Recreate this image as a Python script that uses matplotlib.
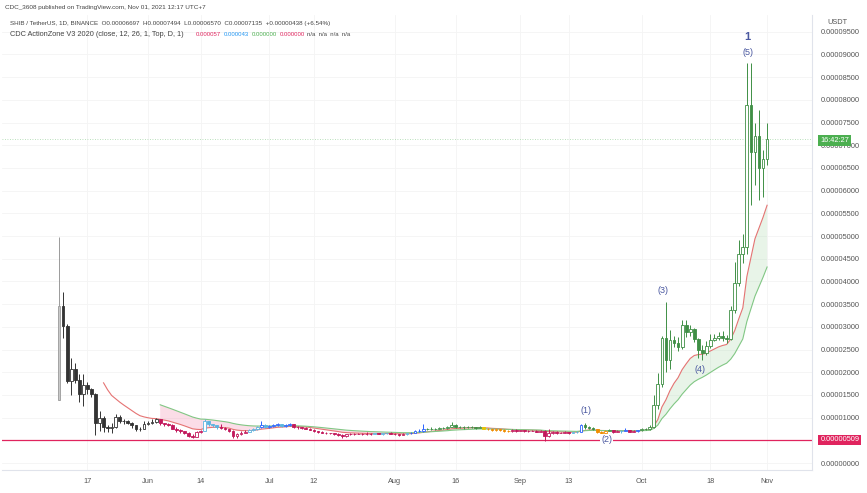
import matplotlib.pyplot as plt
import matplotlib.dates as mdates
import numpy as np
import pandas as pd

plt.rcParams['font.family'] = ['Liberation Sans', 'DejaVu Sans']

# SHIB / TetherUS daily candles, Binance, 10 May 2021 .. 1 Nov 2021
# values below are in units of 1e-6 USDT
start_date = "2021-05-10"
first_open_e6 = 13.9
close_e6 = [34.5, 30.1, 18.0, 20.6, 18.3, 15.2, 17.2, 16.2, 15.2, 8.8,
            9.9, 7.9, 7.7, 8.0, 10.2, 9.3, 9.2, 8.8, 8.3, 7.5,
            7.6, 8.7, 8.9, 9.0, 9.6, 8.8, 8.5, 8.3, 7.6, 7.3,
            7.0, 6.5, 6.0, 5.8, 6.8, 7.1, 9.2, 8.5, 8.3, 7.9,
            7.7, 7.5, 7.1, 5.9, 6.3, 6.7, 6.9, 7.2, 7.5, 7.9,
            8.3, 8.0, 8.2, 8.4, 8.5, 8.1, 8.3, 8.6, 8.0, 7.9,
            7.7, 7.6, 7.3, 7.0, 6.9, 6.7, 6.5, 6.5, 6.4, 6.2,
            5.9, 6.3, 6.3, 6.4, 6.4, 6.3, 6.4, 6.4, 6.5, 6.4,
            6.5, 6.6, 6.4, 6.3, 6.2, 6.4, 6.5, 6.7, 7.1, 7.0,
            7.4, 7.5, 7.6, 7.5, 7.7, 7.8, 8.0, 8.4, 8.0, 7.9,
            7.9, 8.0, 7.9, 7.8, 7.9, 7.6, 7.5, 7.2, 7.4, 7.3,
            7.1, 7.0, 7.2, 7.1, 7.2, 7.0, 7.1, 7.1, 6.9, 7.1,
            6.0, 6.5, 6.8, 6.6, 6.7, 6.8, 6.6, 6.8, 6.9, 8.3,
            7.9, 7.8, 7.5, 6.9, 6.7, 7.1, 7.2, 6.9, 7.0, 7.1,
            7.2, 6.9, 7.0, 7.2, 7.5, 7.4, 7.9, 12.8, 17.5, 27.5,
            22.7, 27.1, 26.4, 25.6, 30.3, 28.9, 29.5, 27.3, 25.0, 24.3,
            25.8, 27.2, 27.6, 28.0, 27.6, 27.3, 33.7, 39.6, 46.0, 47.5,
            78.9, 68.5, 72.0, 65.0, 66.97, 71.35]
high_e6 = [49.8, 37.7, 30.6, 23.1, 22.0, 19.6, 19.6, 17.9, 16.6, 15.5,
           11.5, 10.3, 8.4, 8.8, 10.9, 10.6, 9.8, 9.4, 9.0, 8.4,
           8.0, 9.2, 9.3, 9.6, 10.0, 9.7, 8.9, 8.8, 8.5, 7.9,
           7.6, 7.1, 6.8, 6.3, 7.0, 7.3, 9.7, 9.2, 8.7, 8.4,
           8.7, 7.9, 7.6, 7.3, 6.6, 7.0, 7.2, 7.6, 7.8, 8.2,
           9.3, 8.6, 8.4, 8.6, 8.8, 8.6, 8.5, 8.9, 8.7, 8.2,
           8.0, 7.9, 7.7, 7.4, 7.1, 7.0, 6.8, 6.7, 6.6, 6.5,
           6.3, 6.4, 6.5, 6.5, 6.6, 6.5, 6.9, 6.5, 6.6, 6.6,
           6.6, 6.7, 6.8, 6.5, 6.4, 6.5, 6.6, 6.8, 7.2, 7.5,
           8.7, 7.8, 7.9, 7.8, 7.9, 8.0, 8.2, 9.1, 8.7, 8.2,
           8.1, 8.2, 8.1, 8.0, 8.1, 8.0, 7.7, 7.6, 7.5, 7.5,
           7.4, 7.2, 7.6, 7.4, 7.3, 7.3, 7.2, 7.3, 7.2, 7.3,
           7.2, 7.6, 7.1, 7.0, 6.9, 7.0, 6.9, 6.9, 7.1, 8.5,
           8.8, 8.2, 7.9, 7.6, 7.1, 7.3, 7.4, 7.3, 7.2, 7.2,
           7.8, 7.3, 7.2, 7.3, 7.7, 7.7, 8.3, 15.0, 19.8, 28.0,
           35.4, 29.3, 27.9, 27.8, 31.5, 31.5, 30.3, 29.8, 27.5, 26.0,
           26.8, 28.4, 28.5, 28.8, 29.0, 28.3, 34.5, 44.3, 49.1, 50.5,
           88.1, 88.1, 75.0, 77.8, 69.0, 74.94]
low_e6 = [13.9, 27.5, 17.6, 15.0, 17.6, 13.5, 12.6, 15.2, 14.6, 6.2,
          7.0, 6.9, 6.9, 6.6, 7.8, 8.9, 8.7, 8.5, 7.8, 7.1,
          7.0, 7.4, 8.3, 8.6, 8.9, 8.3, 8.1, 8.1, 7.4, 6.8,
          6.5, 6.3, 5.8, 5.5, 5.7, 6.6, 7.0, 8.2, 8.0, 7.6,
          7.4, 7.2, 6.9, 5.6, 5.5, 6.1, 6.6, 6.8, 7.0, 7.3,
          7.7, 7.8, 7.8, 8.0, 8.2, 7.9, 8.0, 8.2, 7.8, 7.6,
          7.5, 7.4, 7.2, 6.9, 6.6, 6.5, 6.3, 6.3, 6.2, 6.0,
          5.6, 5.7, 6.1, 6.2, 6.3, 6.2, 6.2, 6.1, 6.3, 6.3,
          6.2, 6.4, 6.3, 6.2, 6.0, 6.1, 6.2, 6.4, 6.6, 6.8,
          6.9, 7.2, 7.3, 7.3, 7.4, 7.6, 7.6, 7.9, 7.8, 7.7,
          7.6, 7.8, 7.7, 7.6, 7.7, 7.4, 7.3, 7.0, 7.1, 7.1,
          6.9, 6.8, 6.9, 6.9, 7.0, 6.9, 6.9, 7.0, 6.8, 6.9,
          4.9, 5.7, 6.3, 6.4, 6.5, 6.6, 6.4, 6.5, 6.7, 6.8,
          7.6, 7.5, 7.3, 6.7, 6.4, 6.6, 7.0, 6.7, 6.8, 6.7,
          7.0, 6.8, 6.8, 6.9, 7.0, 7.2, 7.3, 7.7, 12.0, 16.8,
          20.1, 20.8, 25.5, 24.6, 25.2, 27.8, 27.9, 26.7, 23.1, 22.6,
          23.7, 25.3, 26.8, 27.0, 26.9, 26.5, 27.0, 33.0, 39.0, 44.0,
          46.0, 56.8, 61.2, 57.9, 58.5, 65.70]
support_level = 0.00000509

tick_dates = ["2021-05-17", "2021-06-01", "2021-06-14", "2021-07-01", "2021-07-12", "2021-08-01",
              "2021-08-16", "2021-09-01", "2021-09-13", "2021-10-01", "2021-10-18", "2021-11-01"]
tick_labels = ["17", "Jun", "14", "Jul", "12", "Aug", "16", "Sep", "13", "Oct", "18", "Nov"]

close = np.array(close_e6) * 1e-6
high = np.array(high_e6) * 1e-6
low = np.array(low_e6) * 1e-6
opn = np.r_[first_open_e6 * 1e-6, close[:-1]]
dates = pd.date_range(start_date, periods=len(close), freq="D")
x = mdates.date2num(dates)


def pine_ema(src, n):
    out = np.full(len(src), np.nan)
    out[n - 1] = src[:n].mean()
    a = 2 / (n + 1)
    for i in range(n, len(src)):
        out[i] = a * src[i] + (1 - a) * out[i - 1]
    return out


fast = pine_ema(close, 12)
slow = pine_ema(close, 26)

# CDC ActionZone bar colours
face, edge = [], []
for i in range(len(close)):
    up = close[i] >= opn[i]
    if np.isnan(slow[i]):
        col = '#333333'
        if i == 0:
            face.append('#c9c9c9'); edge.append('#9a9a9a'); continue
    else:
        bull = fast[i] > slow[i]
        c = close[i]
        if bull and c > fast[i]:
            col = '#3f8f45'
        elif not bull and c > fast[i] and c > slow[i]:
            col = '#2962ff'
        elif not bull and c > fast[i]:
            col = '#5ab4e0'
        elif not bull:
            col = '#c2185b'
        elif c > slow[i]:
            col = '#e6c700'
        else:
            col = '#f08c00'
    edge.append(col)
    face.append('white' if up else col)

fig = plt.figure(figsize=(8.67, 4.93), dpi=100)
ax = fig.add_axes([2 / 867, 23 / 493, 810 / 867, 455 / 493])

# EMA cloud
ax.fill_between(x, fast, slow, where=fast > slow, interpolate=True, color='#a5d6a7', alpha=0.25, lw=0)
ax.fill_between(x, fast, slow, where=fast <= slow, interpolate=True, color='#f48fb1', alpha=0.3, lw=0)
ax.plot(x, fast, color='#e57373', lw=0.8)
ax.plot(x, slow, color='#81c784', lw=0.8)

# candles
ax.vlines(x, low, high, colors=edge, lw=0.7, zorder=3)
body = np.maximum(np.abs(close - opn), 0.06e-6)
ax.bar(x, body, bottom=np.minimum(opn, close), width=0.68, color=face,
       edgecolor=edge, linewidth=0.6, zorder=4)

# support line and last price line
ax.axhline(support_level, color='#e0245e', lw=0.9, zorder=2)
ax.axhline(close[-1], color='#a5d6a7', lw=0.6, ls=(0, (1, 2)), zorder=1)

# Elliott wave labels
wave = '#4a58a0'
kw = dict(ha='center', va='bottom', color=wave, fontsize=6.5, textcoords='offset points')
ax.annotate('(1)', (x[130], high[130]), xytext=(1, 6), **kw)
ax.annotate('(3)', (x[150], high[150]), xytext=(-2, 5), **kw)
ax.annotate('(5)', (x[170], high[170]), xytext=(1, 4), **kw)
ax.annotate('1', (x[170], high[170]), xytext=(0, 15), ha='center', va='bottom', color=wave,
            fontsize=8, fontweight='bold', textcoords='offset points')
ax.annotate('(4)', (x[158], low[158]), xytext=(1, -5), ha='center', va='top', color=wave,
            fontsize=6.5, textcoords='offset points')
ax.annotate('(2)', (x[135], support_level), xytext=(1, 0), ha='center', va='center', color=wave,
            fontsize=6.5, textcoords='offset points',
            bbox=dict(boxstyle='square,pad=0.15', fc='white', ec='none'), zorder=6)

# axes styling
ax.set_xlim(x[0] - 14.1, x[0] + 186.1)
ax.set_ylim(-1.54e-6, 98.68e-6)
ax.set_xticks(mdates.date2num(pd.to_datetime(tick_dates)))
ax.set_xticklabels(tick_labels)
yt = np.arange(0, 0.0000951, 0.000005)
ax.set_yticks(yt)
ax.set_yticklabels(['' if abs(v - 0.000005) < 1e-9 else f'{v:.8f}' for v in yt])
ax.yaxis.tick_right()
ax.tick_params(axis='both', length=0, labelsize=5.3, colors='#555555')
ax.tick_params(axis='y', pad=6)
ax.tick_params(axis='x', pad=6)
ax.grid(True, color='#f4f4f4', lw=0.6)
ax.set_axisbelow(True)
for s in ['left', 'top']:
    ax.spines[s].set_visible(False)
for s in ['right', 'bottom']:
    ax.spines[s].set_color('#e0e3eb')
    ax.spines[s].set_linewidth(0.8)

# price-scale tags
ax.annotate(f'{support_level:.8f}', (1.0, support_level), xycoords=('axes fraction', 'data'),
            xytext=(6, 0), textcoords='offset points', ha='left', va='center', fontsize=5.3,
            color='white', bbox=dict(boxstyle='square,pad=0.25', fc='#e0245e', ec='none'),
            annotation_clip=False, zorder=10)
ax.annotate('16:42:27', (1.0, close[-1]), xycoords=('axes fraction', 'data'),
            xytext=(6, -1), textcoords='offset points', ha='left', va='center', fontsize=5.3,
            color='white', bbox=dict(boxstyle='square,pad=0.25', fc='#4caf50', ec='none'),
            annotation_clip=False, zorder=10)
fig.text(837 / 867, 1 - 23 / 493, 'USDT', ha='center', va='center', fontsize=5.3, color='#555555')

# header
fig.text(5 / 867, 1 - 8 / 493, 'CDC_3608 published on TradingView.com, Nov 01, 2021 12:17 UTC+7',
         fontsize=4.6, color='#444444', va='center')
fig.text(10 / 867, 1 - 23 / 493,
         'SHIB / TetherUS, 1D, BINANCE  O0.00006697  H0.00007494  L0.00006570  C0.00007135  +0.00000438 (+6.54%)',
         fontsize=4.5, color='#444444', va='center')
y3 = 1 - 34 / 493
fig.text(10 / 867, y3, 'CDC ActionZone V3 2020 (close, 12, 26, 1, Top, D, 1)', fontsize=5.3,
         color='#444444', va='center')
for xp, txt, col in [(196, '0.000057', '#e0245e'), (224, '0.000043', '#2196f3'),
                     (252, '0.000000', '#4caf50'), (280, '0.000000', '#e0245e'),
                     (307, 'n/a  n/a  n/a  n/a', '#444444')]:
    fig.text(xp / 867, y3, txt, fontsize=4.3, color=col, va='center')

fig.savefig('out.png', dpi=100)
